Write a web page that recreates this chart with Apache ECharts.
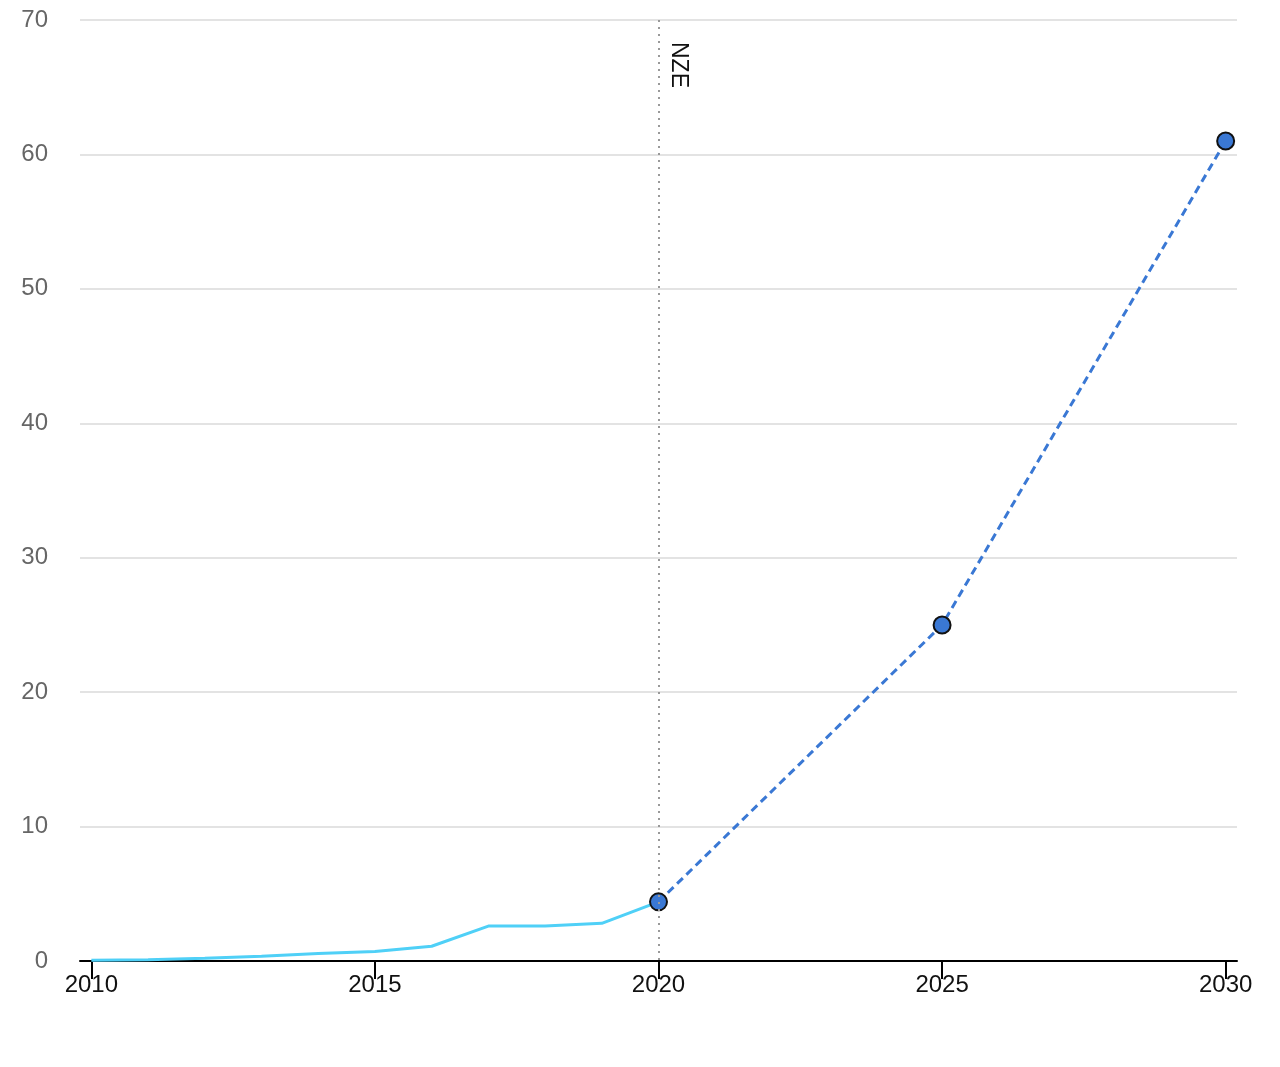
<!DOCTYPE html><html><head><meta charset="utf-8"><script src="https://cdn.jsdelivr.net/npm/echarts@6/dist/echarts.min.js"></script>
<style>body{margin:0}#c{width:1280px;height:1067px}</style></head><body><div id="c"></div><script>
const histYears=[2010,2011,2012,2013,2014,2015,2016,2017,2018,2019,2020];
const histValues=[0.05,0.1,0.2,0.35,0.55,0.7,1.1,2.6,2.6,2.8,4.4];
const nzeYears=[2020,2025,2030];
const nzeValues=[4.4,25,61];
const xTicks=[2010,2015,2020,2025,2030];
const chart=echarts.init(document.getElementById('c'));
chart.setOption({
 animation:false,
 grid:{left:80,right:43,top:20,bottom:106},
 xAxis:{type:'value',min:2009.8,max:2030.2,
  axisLine:{lineStyle:{color:'#000',width:2}},
  axisTick:{show:true,customValues:xTicks,length:18,lineStyle:{color:'#000',width:2}},
  axisLabel:{customValues:xTicks,formatter:v=>String(v),color:'#111',fontSize:24,fontFamily:'Liberation Sans',margin:12},
  splitLine:{show:false}},
 yAxis:{type:'value',min:0,max:70,interval:10,
  axisLine:{show:false},axisTick:{show:false},
  axisLabel:{color:'#666',fontSize:24,fontFamily:'Liberation Sans',margin:32,padding:[6,0,0,0]},
  splitLine:{lineStyle:{color:'#e3e3e3',width:2}}},
 series:[
  {type:'line',data:histYears.map((y,i)=>[y,histValues[i]]),showSymbol:false,lineStyle:{color:'#4fd0f7',width:3},
   markLine:{silent:true,symbol:'none',data:[[{coord:[2020,70]},{coord:[2020,0]}]],lineStyle:{color:'#999',type:[2,5],width:2},
    label:{formatter:'NZE',position:'insideStartTop',color:'#111',fontSize:23,fontFamily:'Liberation Sans',distance:[22,8]}}},
  {type:'line',data:nzeYears.map((y,i)=>[y,nzeValues[i]]),symbol:'circle',symbolSize:17,
   itemStyle:{color:'#3a78d4',borderColor:'#111',borderWidth:2},lineStyle:{color:'#3a78d4',width:3,type:[8,5]},z:3}
 ]});
</script></body></html>
